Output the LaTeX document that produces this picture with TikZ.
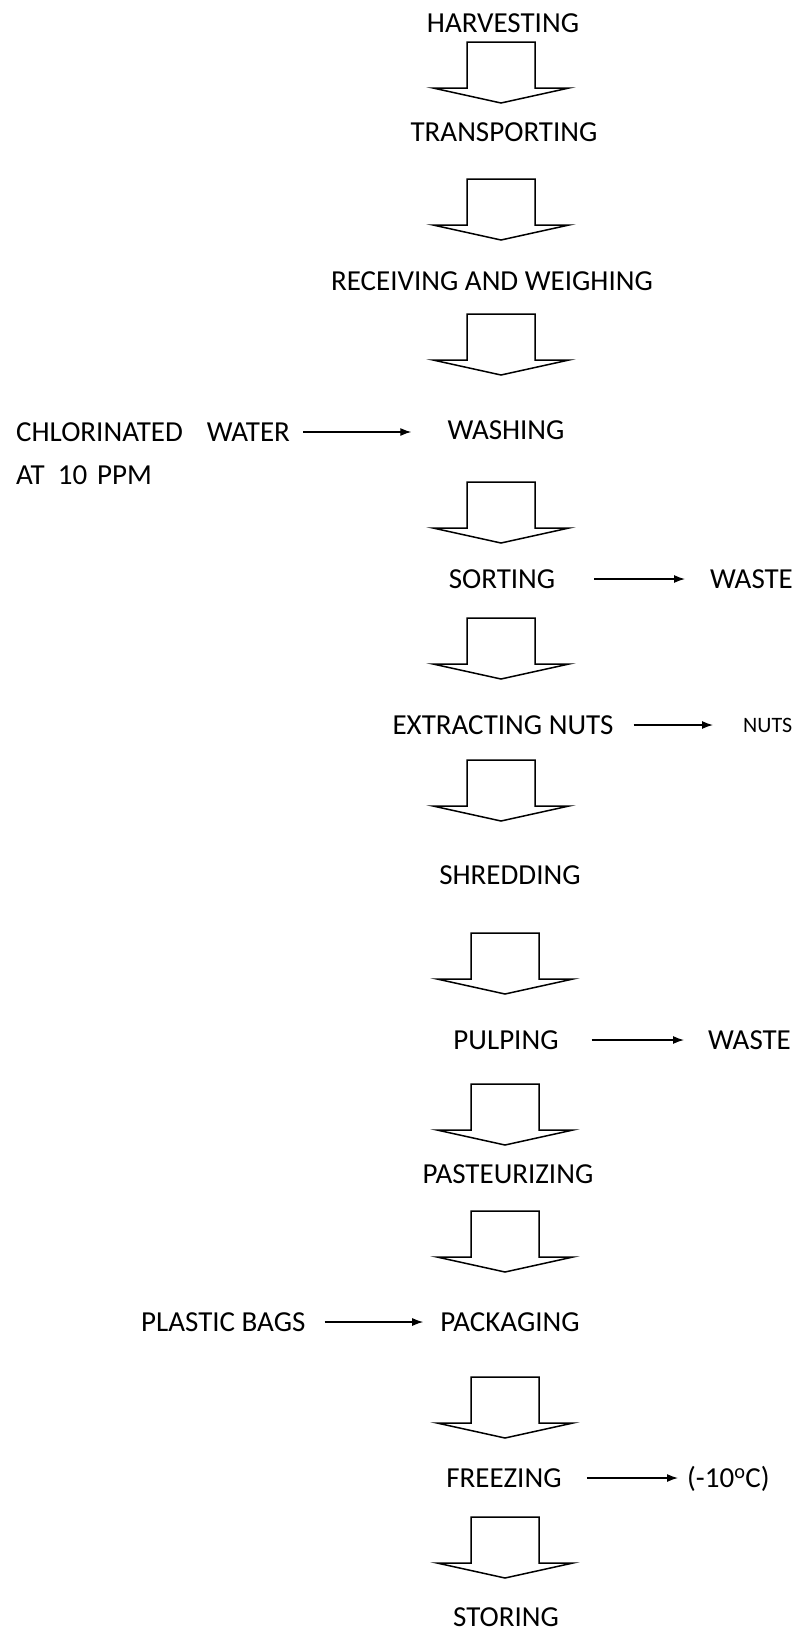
\documentclass[tikz,border=0pt]{standalone}
\usepackage{fontspec}
\setmainfont{Carlito}
\usetikzlibrary{arrows.meta}
\begin{document}
\begin{tikzpicture}[x=1pt,y=-1pt,
  lbl/.style={inner sep=0pt, text height=18.7pt, text depth=0pt, font=\fontsize{29}{34}\selectfont},
  side/.style={lbl, anchor=west},
  flow/.style={line width=1.3pt, -{Latex[length=11pt,width=8pt]}},
  blockarrow/.pic={\draw[line width=1.5pt, line join=miter] (-34,0) -- (34,0) -- (34,46) -- (68,46) -- (0,61) -- (-68,46) -- (-34,46) -- cycle;}
]
\useasboundingbox (0,0) rectangle (808,1634);

% main steps
\node[lbl] (harv)  at (503,23)   {HARVESTING};
\node[lbl] (trans) at (504,132)  {TRANSPORTING};
\node[lbl] (recv)  at (492,281)  {RECEIVING AND WEIGHING};
\node[lbl] (wash)  at (506,430)  {WASHING};
\node[lbl] (sort)  at (502,579)  {SORTING};
\node[lbl] (extr)  at (503,725)  {EXTRACTING NUTS};
\node[lbl] (shred) at (510,875)  {SHREDDING};
\node[lbl] (pulp)  at (506,1040) {PULPING};
\node[lbl] (past)  at (508,1174) {PASTEURIZING};
\node[lbl] (pack)  at (510,1322) {PACKAGING};
\node[lbl] (freez) at (504,1478) {FREEZING};
\node[lbl] (stor)  at (506,1617) {STORING};

% side inputs / outputs
\node[side] (chl)    at (16,432)  {CHLORINATED\hspace{24pt}WATER};
\node[side] (ppm)    at (16,475)  {AT\hspace{13pt}10\hspace{10pt}PPM};
\node[side] (waste1) at (710,579) {WASTE};
\node[side, text height=14pt, font=\fontsize{22}{26}\selectfont] (nuts) at (743,725) {NUTS};
\node[side] (waste2) at (708,1040) {WASTE};
\node[side] (bags)   at (141,1322) {PLASTIC BAGS};
\node[side] (temp)   at (687,1478) {(-10\textsuperscript{o}C)};

% block arrows between steps
\pic at (501,42)   {blockarrow};
\pic at (501,179)  {blockarrow};
\pic at (501,314)  {blockarrow};
\pic at (501,482)  {blockarrow};
\pic at (501,618)  {blockarrow};
\pic at (501,760)  {blockarrow};
\pic at (505,933)  {blockarrow};
\pic at (505,1084) {blockarrow};
\pic at (505,1211) {blockarrow};
\pic at (505,1377) {blockarrow};
\pic at (505,1517) {blockarrow};

% thin arrows
\draw[flow, shorten <=13pt, shorten >=36pt] (chl.east) -- (chl.east -| wash.west);
\draw[flow, shorten <=39pt, shorten >=25pt] (sort.east) -- (waste1.west);
\draw[flow, shorten <=20pt, shorten >=30pt] (extr.east) -- (extr.east -| nuts.west);
\draw[flow, shorten <=33pt, shorten >=24pt] (pulp.east) -- (waste2.west);
\draw[flow, shorten <=19pt, shorten >=17pt] (bags.east) -- (pack.west);
\draw[flow, shorten <=25pt, shorten >=9pt]  (freez.east) -- (temp.west);
\end{tikzpicture}
\end{document}
